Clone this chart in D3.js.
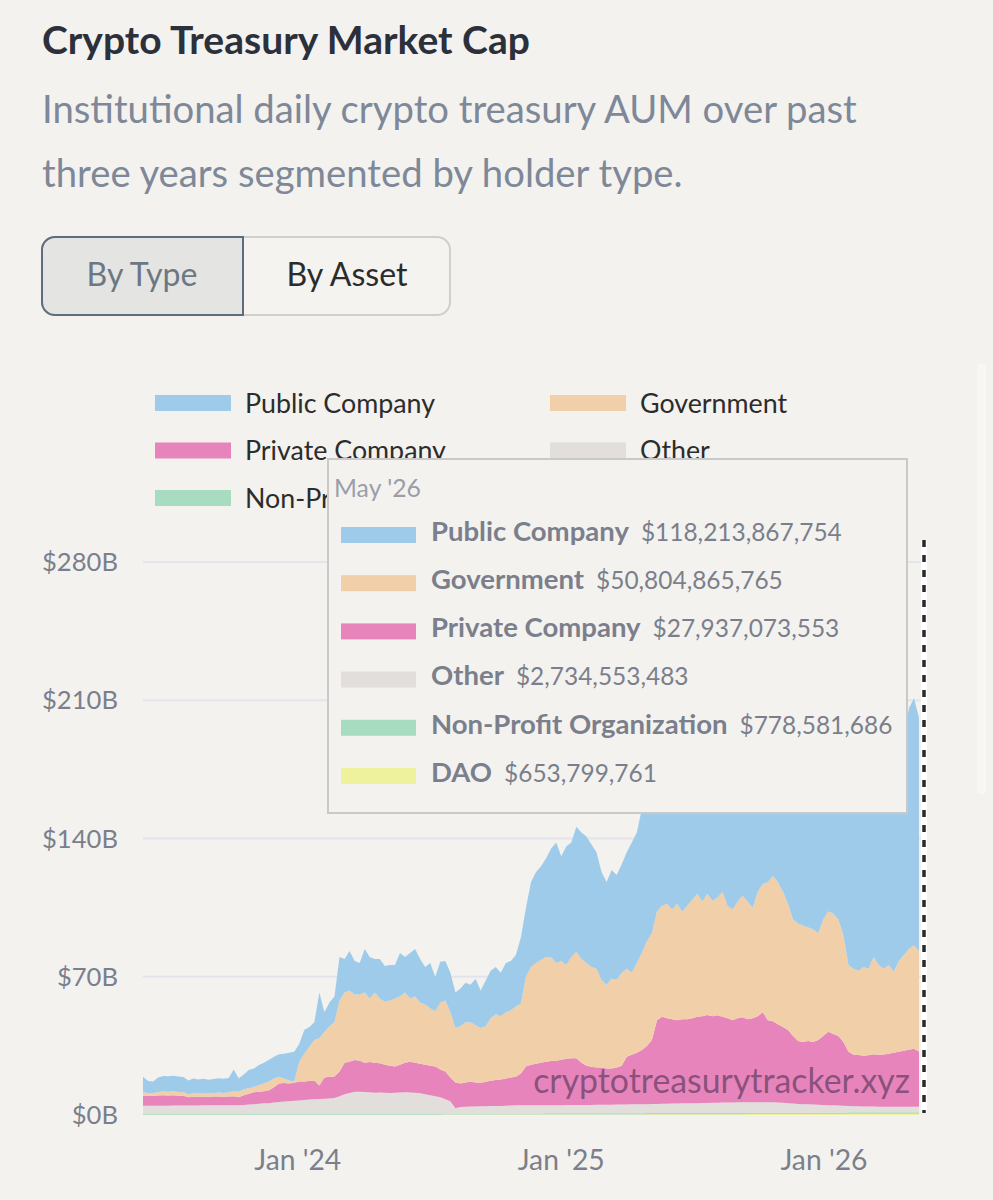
<!DOCTYPE html>
<html>
<head>
<meta charset="utf-8">
<title>Crypto Treasury Market Cap</title>
<script src="https://d3js.org/d3.v7.min.js"></script>
<style>
  html, body { margin: 0; padding: 0; background: #f3f2ef; }
  svg { display: block; }
</style>
</head>
<body>
<svg id="chart" width="993" height="1200"></svg>
<script>
// weekly samples, first one 2023-05-31, values in $B
const startDate = new Date(Date.UTC(2023, 4, 31));

const seriesNames = ["Public Company", "Government", "Private Company", "Other", "Non-Profit Organization", "DAO"];
const seriesColors = ["#9fcbea", "#f1cfa9", "#e784bb", "#e1dedc", "#a8dcc1", "#eef29c"];

const publicCo = [7.6,6.2,5.8,7.4,7.9,7.8,7.9,7.8,7.6,7.0,
  7.5,6.9,7.4,6.8,7.0,7.2,7.2,7.2,11.0,6.8,
  7.5,9.3,9.3,10.1,10.5,11.0,11.0,11.4,12.5,14.0,
  15.0,9.0,12.0,9.9,9.0,23.0,10.0,12.0,13.0,22.0,
  17,20,17,16,22,21,17,20,18.2,18,
  17,22,18,23,24,22,19,23,17.5,20.6,
  20,20,18,19,20,19,23.5,19,23,24,
  24,22,25,25,26,33.5,35,43,46,47.5,
  50,55,61,53,60,58,63.4,64,64,62,
  59,54.7,52,55,53,55,59,66,66,73,
  70,73,77,82,78,86,88,89,92,96,
  98,104,108,116.5,120,115,116,114,117,121,
  127,125,125,128,130,129,126,125,125,121,
  118,116,119,116,113,113,115,112,106,104,
  104,102,105,107,106,106,104,98,100,97.5,
  100,109,122,125,118.213867754];

const government = [2.0,1.4,1.5,1.7,1.9,1.9,2.0,1.9,1.9,1.5,
  1.7,1.8,1.7,1.7,1.8,2.0,1.9,2.1,2.5,2.8,
  3.0,2.7,2.7,3.4,4.0,4.5,4.5,3.4,2.3,1.5,
  0.7,10.1,14.0,17.4,20.5,24.0,23.0,25.6,27.5,36.0,
  35.5,36.0,33.2,33.5,35.5,32.2,35.5,32.8,31.8,33.0,
  34.4,34.5,35.5,32.0,33.5,31.0,30.5,29.0,28.0,34.0,
  36.0,33.0,27.5,29.0,30.5,30.2,29.0,27.8,28.2,31.7,
  33.3,32.0,33.5,34.0,35.6,35.5,45.5,49.5,51.0,52.0,
  53.0,52.7,49.5,50.0,47.5,51.3,53.9,52.5,52.0,50.6,
  50.0,44.3,42.5,45.5,44.5,47.0,44.5,41.5,45.5,49.1,
  53.0,54.0,55.0,56.3,58.0,55.5,59.0,54.5,57.5,60.0,
  62.3,58.0,61.4,58.5,59.5,63.2,57.0,56.0,59.0,61.5,
  59.5,56.0,63.0,65.0,70.0,73.5,72.0,68.5,64.0,59.0,
  59.5,59.0,57.5,57.0,54.0,59.0,60.8,61.0,59.0,54.0,
  44.0,43.5,42.6,45.0,43.7,49.2,45.5,43.4,45.0,41.0,
  46.0,48.5,51.0,52.5,50.804865765];

const privateCo = [5.1,4.9,5.0,5.2,5.3,5.2,5.2,5.0,4.9,4.2,
  4.5,4.5,4.3,4.4,4.5,4.5,4.3,4.4,4.5,4.0,
  4.9,5.5,6.0,6.1,6.1,6.5,7.7,9.4,9.4,9.0,
  9.1,9.5,9.4,9.4,9.5,6.9,10.8,11.0,10.9,12.5,
  16.0,15.8,16.0,15.7,14.9,15.3,15.2,14.8,14.2,13.8,
  13.3,14.1,15.0,15.6,15.2,15.0,15.0,15.0,15.0,14.0,
  14.0,12.0,13.1,12.0,12.3,12.5,12.2,11.8,12.4,12.8,
  13.2,13.4,13.8,14.2,14.5,16.1,19.5,20.5,21.0,21.5,
  22.0,22.3,22.5,23.0,23.4,23.6,23.6,21.4,19.9,19.3,
  18.8,18.8,18.3,18.3,18.7,19.7,24.2,25.1,26.1,27.4,
  29.5,32.4,42.4,44.0,43.3,42.7,42.2,42.6,42.6,43.0,
  43.7,43.9,44.5,43.8,44.3,43.5,42.7,41.7,42.6,43.1,
  42.1,42.5,43.5,45.5,41.5,41.1,39.7,38.3,37.0,34.2,
  31.9,31.5,32.1,31.7,32.8,34.9,37.2,36.1,35.2,32.3,
  27.5,26.1,26.0,25.7,26.0,26.5,26.3,26.4,26.8,27.3,
  27.8,28.3,28.8,29.3,27.937073553];

const other = [4.0,4.0,4.0,4.0,4.0,4.0,4.1,4.1,4.1,4.1,
  4.1,4.1,4.2,4.2,4.2,4.2,4.3,4.3,4.3,4.3,
  4.4,4.6,4.8,5.0,5.2,5.3,5.6,5.9,6.1,6.3,
  6.5,6.7,6.9,7.1,7.3,7.4,7.5,7.7,7.9,8.8,
  9.75,10.45,11.05,11.05,10.85,10.75,10.55,10.65,10.55,10.45,
  10.55,10.65,10.75,10.65,10.55,10.25,9.75,9.25,8.75,8.25,
  7.2,6.2,2.6,3.2,3.4,3.5,3.5,3.6,3.6,3.7,
  3.7,3.8,3.9,4.0,4.1,4.1,4.2,4.2,4.2,4.2,
  4.15,4.15,4.15,4.15,4.25,4.25,4.25,4.25,4.25,4.25,
  4.35,4.35,4.35,4.35,4.45,4.45,4.45,4.55,4.55,4.65,
  4.5,4.6,4.6,4.7,4.7,4.8,4.8,4.9,4.9,5.0,
  5.0,5.1,5.1,5.2,5.2,5.3,5.3,5.3,5.4,5.4,
  5.2,5.3,5.3,5.3,5.3,5.2,5.1,5.0,4.8,4.6,
  4.4,4.3,4.2,4.1,4.0,3.9,3.8,3.7,3.6,3.5,
  3.15,3.05,3.05,2.95,2.95,2.95,2.85,2.85,2.85,2.85,
  2.85,2.85,2.85,2.85,2.734553483];

const nonProfit = [0.55,0.55,0.55,0.55,0.55,0.55,0.55,0.55,0.55,0.55,
  0.55,0.55,0.55,0.55,0.55,0.55,0.55,0.55,0.55,0.55,
  0.55,0.55,0.55,0.55,0.55,0.55,0.55,0.55,0.55,0.55,
  0.55,0.55,0.55,0.55,0.55,0.55,0.55,0.55,0.55,0.55,
  0.6,0.6,0.6,0.6,0.6,0.6,0.6,0.6,0.6,0.6,
  0.6,0.6,0.6,0.6,0.6,0.6,0.6,0.6,0.6,0.6,
  0.6,0.6,0.6,0.6,0.6,0.6,0.6,0.6,0.6,0.6,
  0.6,0.6,0.6,0.6,0.6,0.6,0.6,0.6,0.6,0.6,
  0.65,0.65,0.65,0.65,0.65,0.65,0.65,0.65,0.65,0.65,
  0.65,0.65,0.65,0.65,0.65,0.65,0.65,0.65,0.65,0.65,
  0.65,0.65,0.65,0.65,0.65,0.65,0.65,0.65,0.65,0.65,
  0.65,0.65,0.65,0.65,0.65,0.65,0.65,0.65,0.65,0.65,
  0.7,0.7,0.7,0.7,0.7,0.7,0.7,0.7,0.7,0.7,
  0.7,0.7,0.7,0.7,0.7,0.7,0.7,0.7,0.7,0.7,
  0.75,0.75,0.75,0.75,0.75,0.75,0.75,0.75,0.75,0.75,
  0.75,0.75,0.75,0.75,0.778581686];

const dao = [0.15,0.15,0.15,0.15,0.15,0.15,0.15,0.15,0.15,0.15,
  0.15,0.15,0.15,0.15,0.15,0.15,0.15,0.15,0.15,0.15,
  0.15,0.15,0.15,0.15,0.15,0.15,0.15,0.15,0.15,0.15,
  0.15,0.15,0.15,0.15,0.15,0.15,0.15,0.15,0.15,0.15,
  0.15,0.15,0.15,0.15,0.15,0.15,0.15,0.15,0.15,0.15,
  0.15,0.15,0.15,0.15,0.15,0.15,0.15,0.15,0.15,0.15,
  0.2,0.2,0.2,0.2,0.2,0.2,0.2,0.2,0.2,0.2,
  0.2,0.2,0.2,0.2,0.2,0.2,0.2,0.2,0.2,0.2,
  0.2,0.2,0.2,0.2,0.2,0.2,0.2,0.2,0.2,0.2,
  0.2,0.2,0.2,0.2,0.2,0.2,0.2,0.2,0.2,0.2,
  0.35,0.35,0.35,0.35,0.35,0.35,0.35,0.35,0.35,0.35,
  0.35,0.35,0.35,0.35,0.35,0.35,0.35,0.35,0.35,0.35,
  0.5,0.5,0.5,0.5,0.5,0.5,0.5,0.5,0.5,0.5,
  0.5,0.5,0.5,0.5,0.5,0.5,0.5,0.5,0.5,0.5,
  0.6,0.6,0.6,0.6,0.6,0.6,0.6,0.6,0.6,0.6,
  0.6,0.6,0.6,0.6,0.653799761];

const yTicks = [0, 70, 140, 210, 280];
const xTicks = [new Date(Date.UTC(2024, 0, 1)), new Date(Date.UTC(2025, 0, 1)), new Date(Date.UTC(2026, 0, 1))];
const hoverLabel = "May '26";

const FONT = "Lato, 'Noto Sans', sans-serif";
const svg = d3.select("#chart");

// size a font so a string comes out at a given width
function fitSize(text, weight, target) {
  const t = svg.append("text").attr("font-family", FONT).attr("font-weight", weight)
    .attr("font-size", 100).text(text);
  const w = t.node().getComputedTextLength();
  t.remove();
  return 100 * target / w;
}

svg.append("rect").attr("width", 993).attr("height", 1200).attr("fill", "#f3f2ef");

// tooltip box, used to cut the legend where the box lies over it
const tipBox = { x: 328, y: 459, w: 579, h: 354 };
svg.append("defs").append("clipPath").attr("id", "outsideTip")
  .append("path").attr("clip-rule", "evenodd")
  .attr("d", `M0,0H993V1200H0Z M${tipBox.x},${tipBox.y}V${tipBox.y + tipBox.h}H${tipBox.x + tipBox.w}V${tipBox.y}Z`);

// header
svg.append("text").attr("x", 42).attr("y", 54)
  .attr("font-family", FONT).attr("font-weight", 700)
  .attr("font-size", fitSize("Crypto Treasury Market Cap", 700, 488))
  .attr("fill", "#2b303b").text("Crypto Treasury Market Cap");

const subSize = fitSize("Institutional daily crypto treasury AUM over past", 400, 815);
svg.append("text").attr("x", 42).attr("y", 123).attr("font-family", FONT)
  .attr("font-size", subSize).attr("fill", "#7e8898")
  .text("Institutional daily crypto treasury AUM over past");
svg.append("text").attr("x", 42).attr("y", 187).attr("font-family", FONT)
  .attr("font-size", subSize).attr("fill", "#7e8898")
  .text("three years segmented by holder type.");

// toggle
svg.append("rect").attr("x", 42).attr("y", 237).attr("width", 408).attr("height", 78)
  .attr("rx", 13).attr("fill", "#f4f3f0").attr("stroke", "#cfcfcc").attr("stroke-width", 2);
svg.append("path")
  .attr("d", "M243,237 H55 A13,13 0 0 0 42,250 V302 A13,13 0 0 0 55,315 H243 Z")
  .attr("fill", "#e4e4e2").attr("stroke", "#5f6c7b").attr("stroke-width", 2);
const btnSize = fitSize("By Asset", 400, 121);
svg.append("text").attr("x", 142).attr("y", 286).attr("text-anchor", "middle")
  .attr("font-family", FONT).attr("font-size", btnSize).attr("fill", "#6c7784").text("By Type");
svg.append("text").attr("x", 347).attr("y", 286).attr("text-anchor", "middle")
  .attr("font-family", FONT).attr("font-size", btnSize).attr("fill", "#2b2b2b").text("By Asset");

// legend (partly under the tooltip, as in the hovered state)
const legSize = fitSize("Public Company", 400, 190);
const legend = svg.append("g").attr("clip-path", "url(#outsideTip)");
seriesNames.forEach((name, i) => {
  const col = i % 2, row = Math.floor(i / 2);
  const lx = col === 0 ? 155 : 550, ly = 403 + row * 47.5;
  if (lx > tipBox.x && ly > tipBox.y) return; // fully hidden by the tooltip
  legend.append("rect").attr("x", lx).attr("y", ly - 8).attr("width", 76).attr("height", 16)
    .attr("fill", seriesColors[i]);
  legend.append("text").attr("x", lx + 90).attr("y", ly).attr("dy", "0.36em")
    .attr("font-family", FONT).attr("font-size", legSize).attr("fill", "#2c2c2c").text(name);
});

// chart
const rows = publicCo.map((v, i) => ({
  date: d3.utcDay.offset(startDate, 7 * i),
  dao: dao[i], nonProfit: nonProfit[i], other: other[i],
  private: privateCo[i], government: government[i], public: v
}));
const keys = ["dao", "nonProfit", "other", "private", "government", "public"];
const keyColor = { public: seriesColors[0], government: seriesColors[1], private: seriesColors[2],
  other: seriesColors[3], nonProfit: seriesColors[4], dao: seriesColors[5] };

const x = d3.scaleUtc().domain(d3.extent(rows, d => d.date)).range([143, 919]);
const y = d3.scaleLinear().domain([0, 280]).range([1115, 562]);

svg.append("g").selectAll("line").data(yTicks.filter(d => d > 0)).join("line")
  .attr("x1", 143).attr("x2", 921).attr("y1", d => y(d)).attr("y2", d => y(d))
  .attr("stroke", "#e4e4ec").attr("stroke-width", 2);

const axisFont = fitSize("$280B", 400, 76);
svg.append("g").selectAll("text").data(yTicks).join("text")
  .attr("x", 118).attr("y", d => y(d)).attr("dy", "0.36em").attr("text-anchor", "end")
  .attr("font-family", FONT).attr("font-size", axisFont).attr("fill", "#7b7f8c")
  .text(d => `$${d}B`);

const stacked = d3.stack().keys(keys)(rows);
const area = d3.area().x(d => x(d.data.date)).y0(d => y(d[0])).y1(d => y(d[1]));
svg.append("g").selectAll("path").data(stacked).join("path")
  .attr("d", area).attr("fill", d => keyColor[d.key]);

const xFmt = d3.utcFormat("%b '%y");
svg.append("g").selectAll("text").data(xTicks).join("text")
  .attr("x", d => x(d)).attr("y", 1160).attr("dy", "0.36em").attr("text-anchor", "middle")
  .attr("font-family", FONT).attr("font-size", fitSize("Jan '24", 400, 87)).attr("fill", "#7b7f8c")
  .text(d => xFmt(d));

// watermark
svg.append("text").attr("x", 910).attr("y", 1093).attr("text-anchor", "end")
  .attr("font-family", FONT).attr("font-size", fitSize("cryptotreasurytracker.xyz", 400, 377))
  .attr("fill", "#4a2f52").attr("fill-opacity", 0.6).text("cryptotreasurytracker.xyz");

// hover line
svg.append("line").attr("x1", 924).attr("x2", 924).attr("y1", 540).attr("y2", 1113)
  .attr("stroke", "#ffffff").attr("stroke-width", 6);
svg.append("line").attr("x1", 924).attr("x2", 924).attr("y1", 540).attr("y2", 1113)
  .attr("stroke", "#2a2a2a").attr("stroke-width", 3.5).attr("stroke-dasharray", "7,8");

// scrollbar track
svg.append("rect").attr("x", 977).attr("y", 364).attr("width", 9).attr("height", 430)
  .attr("rx", 4).attr("fill", "#f8f7f5");

// tooltip for the last sample
const last = rows[rows.length - 1];
const tipKeys = ["public", "government", "private", "other", "nonProfit", "dao"];
const tip = svg.append("g");
tip.append("rect").attr("x", tipBox.x).attr("y", tipBox.y).attr("width", tipBox.w).attr("height", tipBox.h)
  .attr("fill", "#f3f2ef").attr("stroke", "#c9c9c9").attr("stroke-width", 2);
tip.append("text").attr("x", 334).attr("y", 497).attr("font-family", FONT)
  .attr("font-size", fitSize(hoverLabel, 400, 87)).attr("fill", "#9a9ea8").text(hoverLabel);
const tipBold = fitSize("Public Company", 700, 198);
const tipVal = fitSize("$118,213,867,754", 400, 201);
const money = d3.format(",.0f");
tipKeys.forEach((k, i) => {
  const ty = 535 + i * 48.2;
  tip.append("rect").attr("x", 341).attr("y", ty - 8).attr("width", 75).attr("height", 16)
    .attr("fill", keyColor[k]);
  const t = tip.append("text").attr("x", 431).attr("y", ty).attr("dy", "0.36em")
    .attr("font-family", FONT).attr("fill", "#7b7f8c");
  t.append("tspan").attr("font-weight", 700).attr("font-size", tipBold).text(seriesNames[i]);
  t.append("tspan").attr("dx", 12).attr("font-size", tipVal)
    .text("$" + money(last[k] * 1e9));
});
</script>
</body>
</html>
